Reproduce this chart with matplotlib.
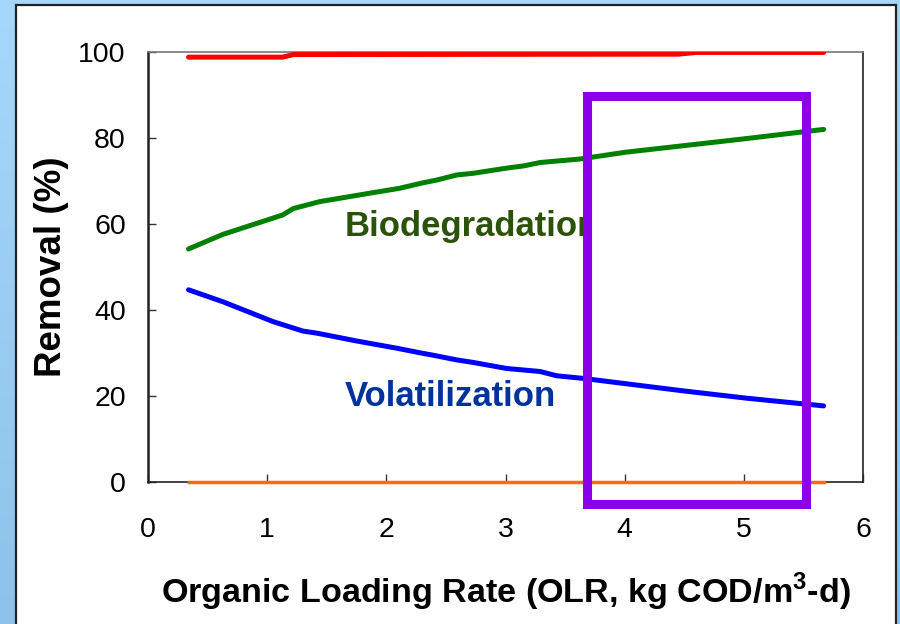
import matplotlib
matplotlib.use("Agg")
import matplotlib.pyplot as plt
import numpy as np
from matplotlib.patches import Rectangle
from matplotlib.colors import LinearSegmentedColormap
from matplotlib.transforms import Bbox, TransformedBbox

# ---- data ----
bio_x = [0.34, 0.63, 1.13, 1.22, 1.44, 1.89, 2.11, 2.31, 2.42, 2.59, 2.73, 3.01, 3.15, 3.29, 3.62, 4.01, 4.97, 5.67]
bio_y = [54.2, 57.6, 62.1, 63.6, 65.2, 67.3, 68.3, 69.6, 70.2, 71.4, 71.8, 73.0, 73.5, 74.3, 75.1, 76.7, 79.7, 82.0]

vol_x = [0.34, 0.63, 1.05, 1.30, 1.42, 1.75, 2.09, 2.31, 2.39, 2.59, 2.73, 3.01, 3.29, 3.43, 3.65, 4.49, 5.02, 5.67]
vol_y = [44.7, 41.9, 37.3, 35.1, 34.6, 32.8, 31.1, 29.9, 29.5, 28.4, 27.8, 26.4, 25.7, 24.7, 24.1, 21.2, 19.5, 17.7]

tot_x = [0.34, 1.13, 1.22, 4.45, 4.60, 5.67]
tot_y = [98.8, 98.8, 99.4, 99.5, 99.9, 99.9]

other_x = [0.34, 5.67]
other_y = [0.0, 0.0]

x_ticks = [0, 1, 2, 3, 4, 5, 6]
y_ticks = [0, 20, 40, 60, 80, 100]

highlight_x = [3.68, 5.52]
highlight_y = [-5.1, 89.8]

label_bio = "Biodegradation"
label_vol = "Volatilization"
xlabel = "Organic Loading Rate (OLR, kg COD/m$^{\\mathregular{3}}$-d)"
ylabel = "Removal (%)"

plt.rcParams['font.family'] = ['Liberation Sans', 'DejaVu Sans']

W, H = 900, 624
fig = plt.figure(figsize=(W / 100, H / 100), dpi=100)

# background gradient
bg = fig.add_axes([0, 0, 1, 1])
grad = np.linspace(0, 1, 256).reshape(-1, 1)
cmap = LinearSegmentedColormap.from_list("bgc", ["#a6d8fd", "#8fc2ea"])
bg.imshow(grad, aspect='auto', cmap=cmap, extent=[0, 1, 0, 1], origin='upper')
bg.set_xlim(0, 1); bg.set_ylim(0, 1)
bg.axis('off')
# white panel
bg.add_patch(Rectangle((16 / W, -0.05), (896 - 16) / W, 1.05 - 5 / H, transform=bg.transAxes,
                       facecolor='white', edgecolor='#222222', linewidth=1.6))

ax = fig.add_axes([148 / W, 1 - 482 / H, (863 - 148) / W, (482 - 52) / H])
ax.set_facecolor('none')
ax.set_xlim(0, 6)
ax.set_ylim(0, 100)

ax.plot(tot_x, tot_y, color='#ff0000', lw=3.6, solid_capstyle='round', zorder=3)
ax.plot(bio_x, bio_y, color='#008000', lw=3.6, solid_capstyle='round', zorder=3)
ax.plot(vol_x, vol_y, color='#0000ff', lw=3.6, solid_capstyle='round', zorder=3)
ax.plot(other_x, other_y, color='#ff6a10', lw=2.5, zorder=3, clip_on=False)

t1 = ax.text(1.65, 59.5, label_bio, color='#2b5209', fontsize=25, fontweight='bold', va='center', ha='left', zorder=4)
t2 = ax.text(1.65, 20.0, label_vol, color='#003399', fontsize=25, fontweight='bold', va='center', ha='left', zorder=4)
clip_box = TransformedBbox(Bbox([[0, 0], [highlight_x[0], 100]]), ax.transData)
for t in (t1, t2):
    t.set_clip_path(None)
    t.set_clip_box(clip_box)
    t.set_clip_on(True)

ax.add_patch(Rectangle((highlight_x[0], highlight_y[0]), highlight_x[1] - highlight_x[0],
                       highlight_y[1] - highlight_y[0], fill=False, edgecolor='#8b00ea',
                       linewidth=6.5, zorder=5, clip_on=False, joinstyle='miter'))

ax.set_xticks(x_ticks)
ax.set_yticks(y_ticks)
ax.tick_params(direction='in', length=6, width=1, colors='#333333', labelsize=20.5,
               labelcolor='black')
ax.tick_params(axis='x', pad=25)
ax.tick_params(axis='y', pad=16)
ax.spines['left'].set_linewidth(1.8)
ax.spines['left'].set_color('#222222')
for s in ['bottom', 'right']:
    ax.spines[s].set_linewidth(1.2)
    ax.spines[s].set_color('#222222')
ax.spines['top'].set_linewidth(1.2)
ax.spines['top'].set_color('#777777')

ax.set_xlabel(xlabel, fontsize=24.6, fontweight='bold', labelpad=20)
ax.set_ylabel(ylabel, fontsize=26.5, fontweight='bold', labelpad=7)

fig.savefig("out.png", dpi=100)
